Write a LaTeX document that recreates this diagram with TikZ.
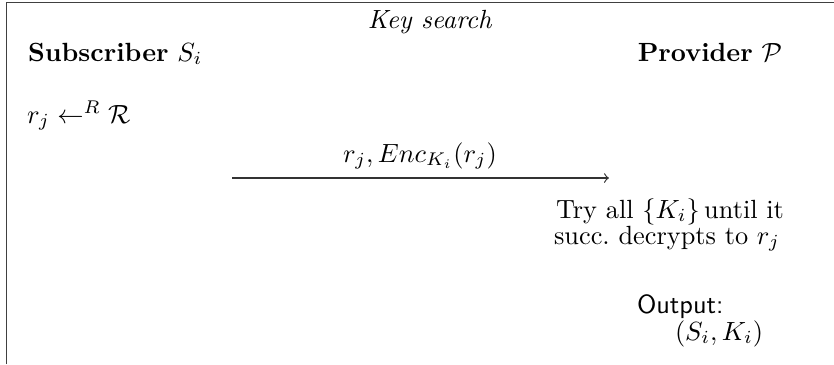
\documentclass[tikz,border=0pt]{standalone}
\usepackage{amsmath,amssymb}
\begin{document}
\begin{tikzpicture}[x=0.38pt,y=-0.38pt,
  txt/.style={inner sep=0pt,outer sep=0pt},
  frameline/.style={draw=black!75,line width=0.45pt},
  msg/.style={draw=black!80,line width=0.45pt,->}]
\useasboundingbox (0,0) rectangle (834,364);
% open frame (left and top edges)
\draw[frameline] (6.7,364) -- (6.7,2.7) -- (834,2.7);
\node[txt,anchor=base] (title) at (430,28) {\textit{Key search}};
\node[txt,anchor=base west] (sub) at (28,61) {\textbf{Subscriber} $S_i$};
\node[txt,anchor=base east] (prov) at (782,61) {\textbf{Provider} $\mathcal{P}$};
\node[txt,anchor=base west] (rj) at (27,123) {$r_j \leftarrow^R \mathcal{R}$};
\coordinate (a) at (232,178);
\coordinate (b) at (609,178);
\draw[msg] (a) -- (b);
\node[txt,anchor=base] (lab) at (420,162) {$r_j, Enc_{K_i}(r_j)$};
\node[txt,anchor=base] (try1) at (670,218) {Try all $\{K_i\}$\,until it};
\node[txt,anchor=base] (try2) at (667,244) {succ.\ decrypts to $r_j$};
\node[txt,anchor=base west] (out1) at (637,313) {\textsf{Output:}};
\node[txt,anchor=base west] (out2) at (675,340) {$(S_i, K_i)$};
\end{tikzpicture}
\end{document}
